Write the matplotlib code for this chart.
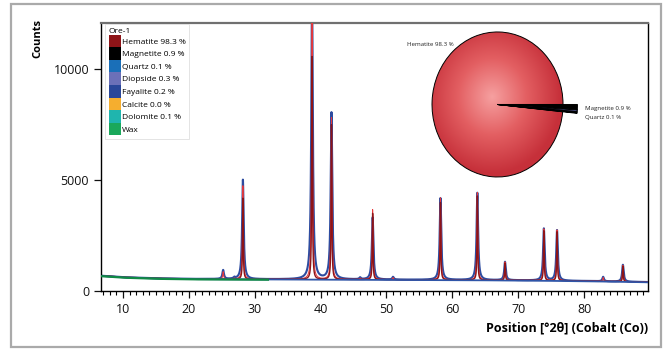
import numpy as np
import matplotlib
matplotlib.use("Agg")
from matplotlib import pyplot as plt
from matplotlib.patches import Patch, Rectangle
from matplotlib.ticker import MultipleLocator

plt.rcParams['font.family'] = ['Open Sans', 'DejaVu Sans']

# phase list (legend + pie)
phases = ['Hematite', 'Magnetite', 'Quartz', 'Diopside', 'Fayalite', 'Calcite', 'Dolomite', 'Wax']
phase_pct = [98.3, 0.9, 0.1, 0.3, 0.2, 0.0, 0.1, None]
phase_colors = ['#8e1418', '#000000', '#1a6fb8', '#6b70b8', '#2a4799', '#f5ae2f', '#1fb5ae', '#1aa85a']

# peak list (position, heights above background)
peak_pos = [25.2, 26.9, 28.2, 38.7, 41.65, 46.0, 47.9, 51.0, 58.2, 63.8, 68.0, 73.9, 75.9, 82.9, 85.9]
peak_obs = [400, 60, 4470, 13000, 7500, 80, 2800, 120, 3680, 3925, 825, 2340, 2270, 200, 760]
peak_calc = [330, 40, 4200, 13000, 7300, 60, 3160, 90, 3700, 3950, 830, 2330, 2280, 170, 740]
peak_hem = [0, 0, 3640, 10100, 7000, 0, 3000, 0, 3500, 3800, 780, 2250, 2200, 0, 700]

# background anchors
bg_x = [6.5, 10, 15, 20, 30, 40, 50, 60, 70, 80, 90]
bg_y = [690, 620, 570, 545, 530, 520, 510, 500, 480, 450, 400]

x = np.linspace(6.5, 90, 6000)
bg = np.interp(x, bg_x, bg_y)


def profile(heights, hw):
    y = bg.copy()
    for p, h in zip(peak_pos, heights):
        y += h * hw ** 2 / ((x - p) ** 2 + hw ** 2)
    return y


fig = plt.figure(figsize=(6.67, 3.52), dpi=100)
ax = fig.add_axes([0.1514, 0.1733, 0.82, 0.7614])

ax.plot(x, profile(peak_obs, 0.14), color='#2e4ca0', lw=1.5, zorder=2)
ax.plot(x, profile(peak_calc, 0.08), color='#e8383a', lw=0.7, zorder=3)
ax.plot(x, profile(peak_hem, 0.06), color=phase_colors[0], lw=1.0, zorder=4)
# background drawn over the phase lines, as in the reference
ax.plot(x, bg - 10, color='#2f55a8', lw=1.3, zorder=4.5)
wax = x < 32
ax.plot(x[wax], bg[wax] - 20, color='#0f8a45', lw=1.6, zorder=5)

ax.set_xlim(6.65, 89.7)
ax.set_ylim(0, 12050)
ax.xaxis.set_major_locator(MultipleLocator(10))
ax.xaxis.set_minor_locator(MultipleLocator(1))
ax.set_yticks([0, 5000, 10000])
ax.tick_params(axis='both', which='major', direction='out', length=5, width=0.9, labelsize=9, colors='#111111')
ax.tick_params(axis='x', which='minor', direction='out', length=3, width=0.8)
for s in ['left', 'bottom', 'right']:
    ax.spines[s].set_linewidth(1.0)
ax.spines['top'].set_color('#707070')
ax.spines['top'].set_linewidth(1.6)

ax.set_xlabel('Position [°2θ] (Cobalt (Co))', fontsize=9, fontweight='bold', loc='right', labelpad=4)
fig.text(0.057, 0.89, 'Counts', rotation=90, fontsize=8, fontweight='bold', ha='center', va='center')

labels = []
for n, p in zip(phases, phase_pct):
    labels.append(n if p is None else '%s %.1f %%' % (n, p))
handles = [Patch(facecolor=c, edgecolor='none') for c in phase_colors]
leg = ax.legend(handles, labels, loc='upper left', bbox_to_anchor=(0.008, 0.995), fontsize=6,
                title='Ore-1', title_fontsize=6, alignment='left', handlelength=1.5, handleheight=1.95,
                labelspacing=0.0, handletextpad=0.1, borderpad=0.4, borderaxespad=0.0, frameon=True,
                fancybox=False, edgecolor='#d8d8d8')
leg.get_frame().set_linewidth(0.6)
leg.set_zorder(10)

# pie inset
pax = fig.add_axes([0.6477, 0.4972, 0.1964, 0.412])
pie_vals = [v for v in phase_pct[1:7]] + [phase_pct[0]]
pie_cols = phase_colors[1:7] + ['none']
wedges, _ = pax.pie(pie_vals, colors=pie_cols, startangle=0, counterclock=False, radius=1,
                    wedgeprops=dict(edgecolor='black', linewidth=0.7))
for w in wedges[:-1]:
    w.set_radius(1.22)
    w.set_clip_on(False)
wedges[-1].set_zorder(3)
gy, gx = np.mgrid[-1:1:300j, -1:1:300j]
r = np.sqrt((gx + 0.08) ** 2 + (gy - 0.1) ** 2)
cmap = matplotlib.colors.LinearSegmentedColormap.from_list('pie', ['#f6a0a0', '#e35f62', '#c6303a'])
im = pax.imshow(r, extent=(-1, 1, -1, 1), origin='lower', cmap=cmap, vmin=0, vmax=1.05, zorder=0.5)
im.set_clip_path(wedges[-1])
pax.set_xlim(-1, 1)
pax.set_ylim(-1, 1)
pax.set_aspect('auto')
pax.axis('off')

fig.text(407 / 667, 1 - 44 / 352, 'Hematite 98.3 %', fontsize=4.4, color='#222222', va='center')
fig.text(585 / 667, 1 - 109 / 352, 'Magnetite 0.9 %', fontsize=4.4, color='#222222', va='center')
fig.text(585 / 667, 1 - 117 / 352, 'Quartz 0.1 %', fontsize=4.4, color='#222222', va='center')

fig.patches.append(Rectangle((11 / 667, 5 / 352), 650 / 667, 343 / 352, transform=fig.transFigure,
                             fill=False, edgecolor='#aaaaaa', linewidth=1.6))

plt.savefig('out.png', dpi=100)
